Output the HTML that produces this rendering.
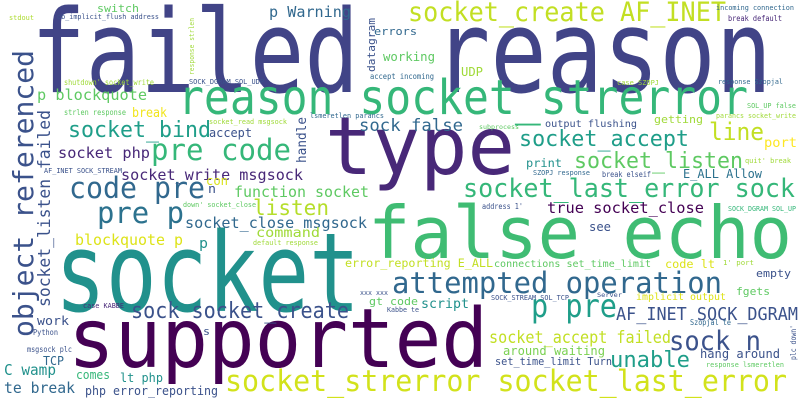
<!DOCTYPE html>
<html><head><meta charset="utf-8"><style>
html,body{margin:0;padding:0;background:#fff;width:800px;height:400px;overflow:hidden}
svg text{font-family:"DejaVu Sans Mono","Liberation Mono",monospace;}
</style></head><body>
<svg id="cloud" width="800" height="400" xmlns="http://www.w3.org/2000/svg">
<rect width="800" height="400" fill="#ffffff"/>
</svg>
<script>
const words = ["failed","reason","socket_create AF_INET","p Warning","reason socket_strerror","type","socket","supported","false echo","attempted operation","sock socket_create","socket_strerror socket_last_error","p pre","AF_INET SOCK_DGRAM","sock n","socket_accept failed","around waiting","unable","hang around","set_time_limit Turn","response lsmeretlen","p blockquote","socket_bind","accept","pre code","socket php","socket_write msgsock","code pre","con","n","pre p","function socket","socket_close msgsock","listen","down' socket_close","command","default response","blockquote p","p","AF_INET SOCK_STREAM","strlen response","break","shutdown' socket_write","switch","stdout","ob_implicit_flush address","SOCK_DGRAM SOL_UDP","errors","working","accept incoming","UDP","socket_read msgsock","lsmeretlen parancs","sock false","subprocess","output flushing","getting","line","port","parancs socket_write","SOL_UP false","response Szopjal","case SZOPJ","incoming connection","break default","socket_accept","socket_listen","print","quit' break","SZOPJ response","break elseif","E_ALL Allow","socket_last_error sock","address 1'","true socket_close","SOCK_DGRAM SOL_UP","see","error_reporting E_ALL","connections set_time_limit","code lt","1' port","empty","fgets","implicit output","SOCK_STREAM SOL_TCP","Server","gt code","script","Kabbe te","xxx xxx","Szopjal te","case KABBE","work","Python","msgsock plc","TCP","C wamp","comes","lt php","te break","php error_reporting","s","object referenced","socket_listen failed","handle","datagram","response strlen","plc down'"];
const xs = [31,434,408,269,178,325,55,68,368,392,131,225,531,616,669,489,503,610,700,495,706,37,68,209,151,58,121,69,206,208,97,234,185,253,183,256,253,75,199,44,64,132,64,97,9,57,189,374,383,370,461,209,310,359,479,545,654,709,764,716,747,718,617,716,728,519,574,526,745,533,602,683,463,482,547,728,589,345,494,665,723,756,736,636,491,597,369,421,387,360,690,83,37,33,27,43,4,76,120,4,85,203,33,50,306,375,194,796];
const ys = [92,92,21,17,114,174,311,367,258,293,318,391,317,320,350,343,355,367,358,365,367,100,137,137,160,158,180,198,185,193,223,197,228,215,207,237,245,245,248,173,115,117,85,12,20,19,84,35,61,79,76,124,118,131,129,127,123,140,147,118,108,84,85,10,21,146,168,167,163,175,177,178,197,209,213,211,231,267,267,268,265,277,295,300,300,297,305,308,312,295,325,308,325,335,352,365,375,379,382,393,395,335,337,307,163,72,75,360];
const sizes = [115,115,27,15,48,80,110,82,72,29,22,29,32,18,27,17,12,22,12,10.5,7,15,22,12,29,15,15,29,12,12,29,15,15,21,7,13,7,15,14,7,8,13,7.5,11,7,7,7,11,12,8,12,7,7,17,6.5,10,11,24,13,7,7,7,7,7,8,22,22,11.5,7,7,8,12,26,7.5,15,7,12,11.5,10,11.5,7,11,11,10,7,6,11,13,7,7,8,7,12,8,8,12,15,12,12,15,12,11,28,17,13,11,7,8];
const widths = [328,338,318,82,570,190,305,420,424,330,218,562,86,182,92,182,102,80,80,117,78,110,143,43,140,92,182,136,22,8,87,135,182,76,73,64,65,108,9,78,62,35,90,42,25,102,75,43,52,64,22,78,74,104,40,92,49,55,33,80,49,65,42,78,54,170,169,36,46,57,49,79,332,41,157,68,22,148,157,50,31,35,34,90,78,25,49,48,32,28,41,41,32,25,45,21,52,34,43,71,133,7,287,197,46,54,57,35];
const colors = ["#414487","#414487","#c2df23","#31688e","#35b779","#482878","#21918c","#440154","#3fbc73","#31688e","#3b528b","#d2e21b","#1f9e89","#3b528b","#3b528b","#c2df23","#7ad151","#1f9e89","#3b528b","#3b528b","#5ec962","#5ec962","#1f9e89","#3b528b","#35b779","#482878","#482878","#31688e","#d8e219","#3b528b","#2c728e","#5ec962","#31688e","#b5de2b","#5ec962","#a0da39","#a0da39","#dde318","#21918c","#3b528b","#5ec962","#f1e51d","#a0da39","#5ec962","#addc30","#3b528b","#3b528b","#31688e","#5ec962","#31688e","#a0da39","#a0da39","#31688e","#31688e","#5ec962","#3b528b","#a0da39","#c2df23","#fde725","#a0da39","#5ec962","#31688e","#a0da39","#31688e","#482878","#1f9e89","#5ec962","#21918c","#a0da39","#31688e","#3b528b","#2c728e","#35b779","#3b528b","#440154","#35b779","#3b528b","#c2df23","#5ec962","#dde318","#a0da39","#3b528b","#5ec962","#dde318","#3b528b","#3b528b","#5ec962","#21918c","#3b528b","#3b528b","#31688e","#482878","#3b528b","#3b528b","#3b528b","#31688e","#21918c","#35b779","#21918c","#31688e","#3b528b","#3b528b","#3b528b","#3b528b","#3b528b","#3b528b","#a0da39","#3b528b","#3b528b"];
const rotated = [0,0,0,0,0,0,0,0,0,0,0,0,0,0,0,0,0,0,0,0,0,0,0,0,0,0,0,0,0,0,0,0,0,0,0,0,0,0,0,0,0,0,0,0,0,0,0,0,0,0,0,0,0,0,0,0,0,0,0,0,0,0,0,0,0,0,0,0,0,0,0,0,0,0,0,0,0,0,0,0,0,0,0,0,0,0,0,0,0,0,0,0,0,0,0,0,0,0,0,0,0,0,1,1,1,1,1,1];

const svg = document.getElementById('cloud');
const NS = "http://www.w3.org/2000/svg";
for (let i = 0; i < words.length; i++) {
  const t = document.createElementNS(NS, 'text');
  
  
  t.setAttribute('x', xs[i]);
  t.setAttribute('y', ys[i]);
  t.setAttribute('font-size', sizes[i]);
  t.setAttribute('fill', colors[i]);
  t.setAttribute('textLength', widths[i]);
  t.setAttribute('lengthAdjust', 'spacingAndGlyphs');
  if (rotated[i]) {
    t.setAttribute('transform', 'rotate(-90 ' + xs[i] + ' ' + ys[i] + ')');
  }
  t.textContent = words[i];
  svg.appendChild(t);
}
</script>
</body></html>
